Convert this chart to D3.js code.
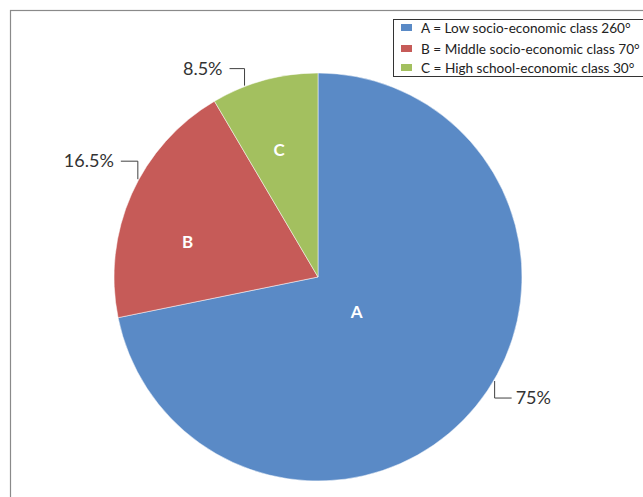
<!DOCTYPE html>
<html>
<head>
<meta charset="utf-8">
<script src="https://cdn.jsdelivr.net/npm/d3@7"></script>
<style>
  body { margin: 0; background: #fff; }
  svg { display: block; font-family: Lato, "Open Sans", sans-serif; }
</style>
</head>
<body>
<div id="chart"></div>
<script>
var categories = ['A', 'B', 'C'];
var degrees = [258.5, 71, 30.5];
var percentLabels = ['75%', '16.5%', '8.5%'];
var legendLabels = [
    'A = Low socio-economic class 260°',
    'B = Middle socio-economic class 70°',
    'C = High school-economic class 30°'
];

var width = 643,
    height = 497,
    cx = 318,
    cy = 277,
    radius = 204;

var colors = d3.scaleOrdinal()
    .domain(categories)
    .range(['#5a8ac6', '#c65b58', '#a3c05f']);

var svg = d3.select('#chart')
    .append('svg')
    .attr('width', width)
    .attr('height', height);

// outer frame (runs off the page right and bottom)
svg.append('rect')
    .attr('x', 10.5)
    .attr('y', 10.5)
    .attr('width', 700)
    .attr('height', 600)
    .attr('fill', 'none')
    .attr('stroke', '#8a8a8a')
    .attr('stroke-width', 1.2);

var pie = d3.pie().sort(null).value(d => d);
var arcs = pie(degrees);

var arc = d3.arc().innerRadius(0).outerRadius(radius);

var g = svg.append('g').attr('transform', 'translate(' + cx + ',' + cy + ')');

g.selectAll('path')
    .data(arcs)
    .enter()
    .append('path')
    .attr('d', arc)
    .attr('fill', (d, i) => colors(categories[i]))
    .attr('stroke', '#fff')
    .attr('stroke-width', 0.5);

// letters inside slices, polar position (angle deg, radius px)
var letterPos = [[132, 52], [285, 135], [343, 133]];
g.selectAll('text.letter')
    .data(arcs)
    .enter()
    .append('text')
    .attr('class', 'letter')
    .attr('transform', (d, i) => {
        var a = letterPos[i][0] * Math.PI / 180;
        var r = letterPos[i][1];
        return 'translate(' + (Math.sin(a) * r) + ',' + (-Math.cos(a) * r + 6) + ')';
    })
    .attr('text-anchor', 'middle')
    .attr('fill', '#fff')
    .attr('font-weight', 'bold')
    .attr('font-size', 17)
    .text((d, i) => categories[i]);

// leader lines: anchor angle on the rim (deg), vertical then horizontal leg
var leaders = [
    { ang: 120.5, dy: 17, dx: 17 },
    { ang: 298.5, dy: -18, dx: -17 },
    { ang: 339, dy: -17, dx: -15 }
];

arcs.forEach(function (d, i) {
    var L = leaders[i];
    var a = L.ang * Math.PI / 180;
    var x0 = Math.sin(a) * (radius + 1);
    var y0 = -Math.cos(a) * (radius + 1);
    var x1 = x0, y1 = y0 + L.dy;
    var x2 = x1 + L.dx, y2 = y1;
    g.append('path')
        .attr('d', d3.line()([[x0, y0], [x1, y1], [x2, y2]]))
        .attr('fill', 'none')
        .attr('stroke', '#404040')
        .attr('stroke-width', 1);
    g.append('text')
        .attr('x', x2 + (L.dx > 0 ? 4 : -7))
        .attr('y', y2 + 6)
        .attr('text-anchor', L.dx > 0 ? 'start' : 'end')
        .attr('font-size', 18)
        .attr('fill', '#333')
        .text(percentLabels[i]);
});

// legend
var legend = svg.append('g');
legend.append('rect')
    .attr('x', 393.5)
    .attr('y', 19.5)
    .attr('width', 300)
    .attr('height', 57)
    .attr('fill', '#fff')
    .attr('stroke', '#333')
    .attr('stroke-width', 1);

var items = legend.selectAll('g.item')
    .data(legendLabels)
    .enter()
    .append('g')
    .attr('class', 'item')
    .attr('transform', (d, i) => 'translate(401,' + [28, 49, 68][i] + ')');

items.append('rect')
    .attr('x', 0)
    .attr('y', -4)
    .attr('width', 11)
    .attr('height', 7)
    .attr('fill', (d, i) => colors(categories[i]));

items.append('text')
    .attr('x', 20)
    .attr('y', 5)
    .attr('font-size', 13.6)
    .attr('fill', '#222')
    .text(d => d);
</script>
</body>
</html>
